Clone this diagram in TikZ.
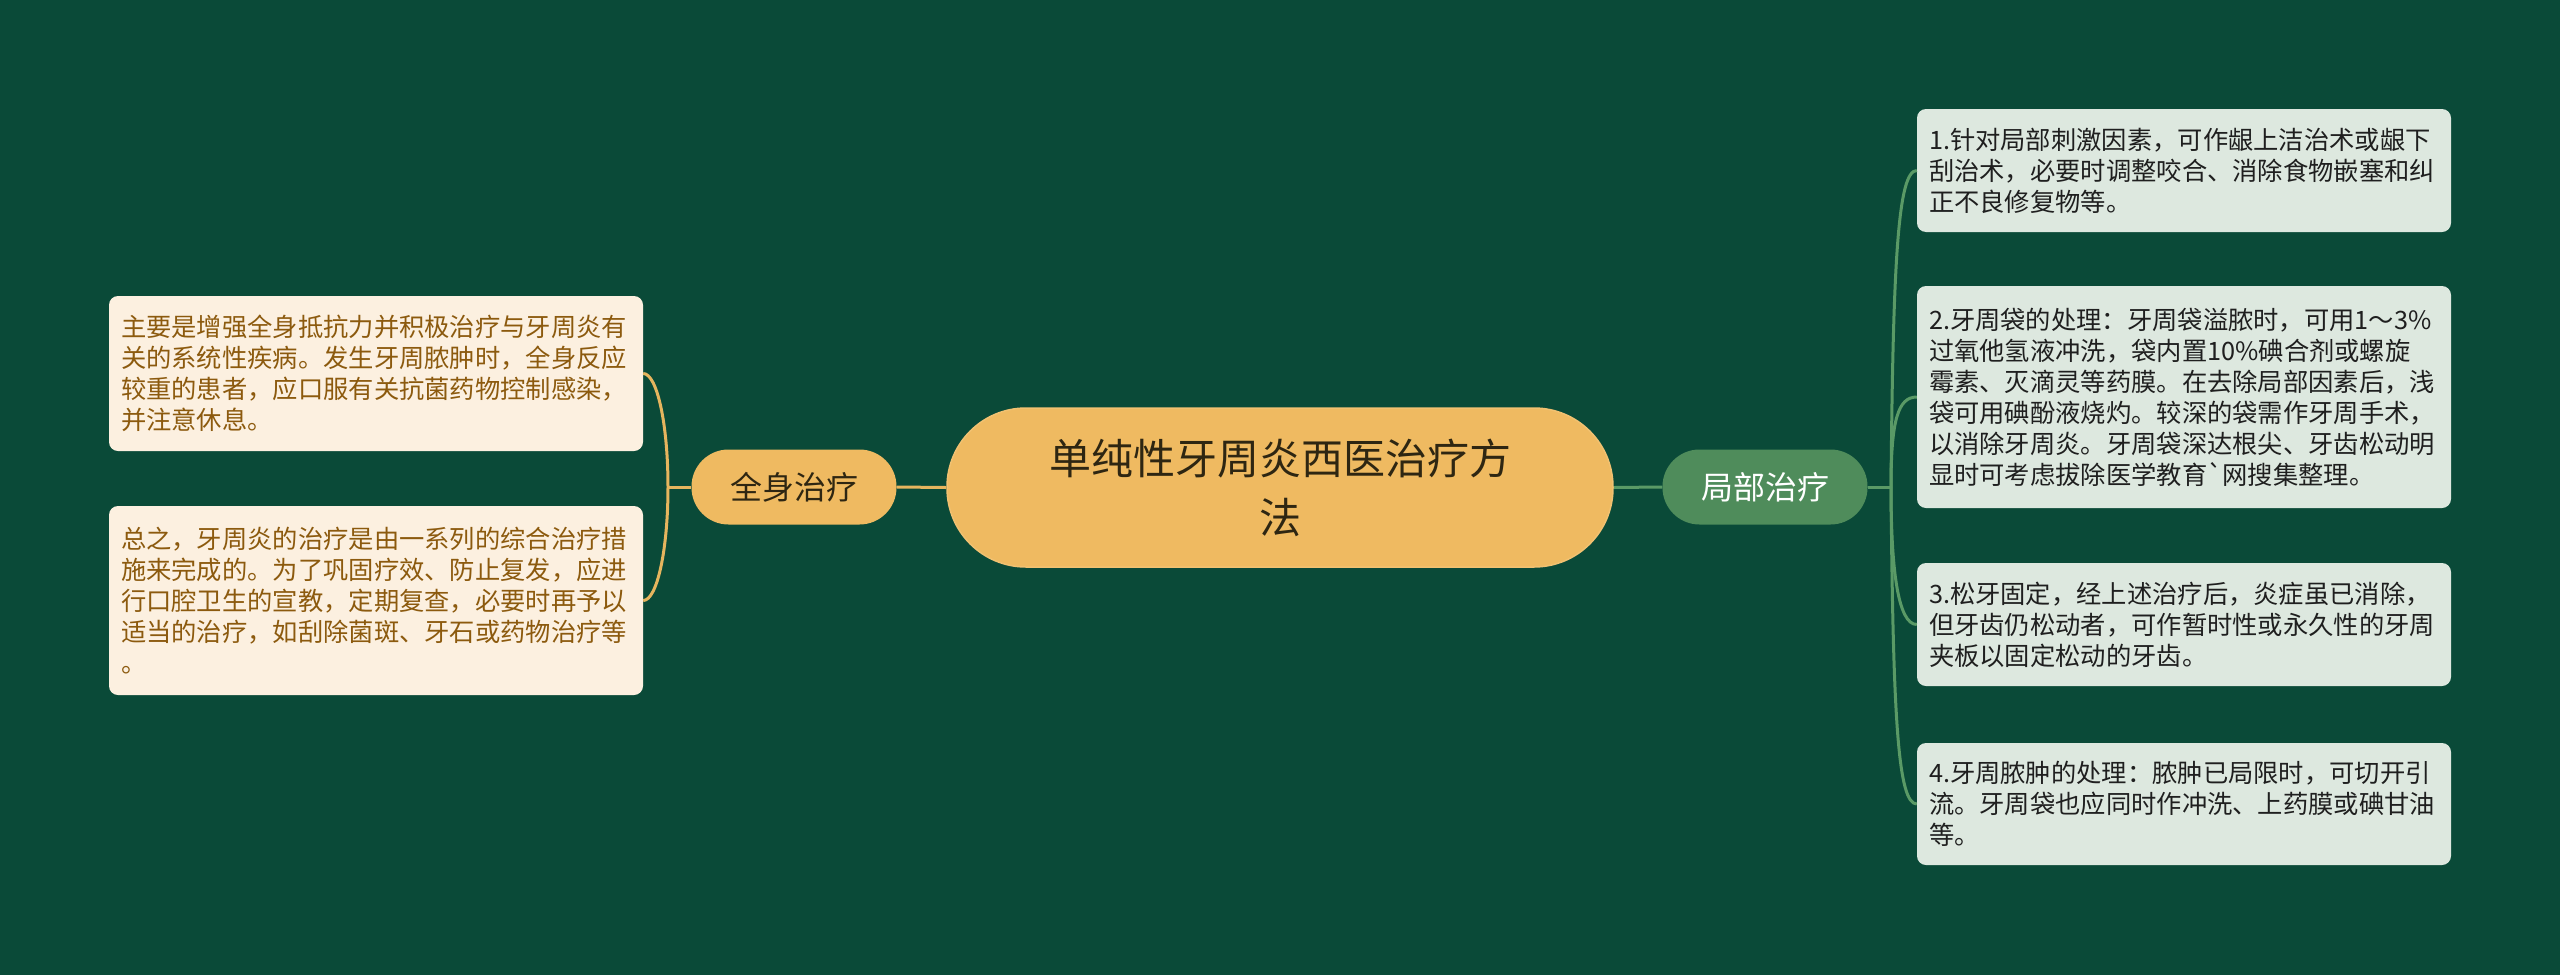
\documentclass[tikz,border=0pt]{standalone}
\usepackage{fontspec}
\setmainfont{Noto Sans CJK SC}[Ligatures=TeXOff]
\definecolor{bgc}{HTML}{0A4A38}
\definecolor{gold}{HTML}{EFBA61}
\definecolor{goldline}{HTML}{E6B55E}
\definecolor{cream}{HTML}{FCF0E0}
\definecolor{browntxt}{HTML}{8C5A0E}
\definecolor{mint}{HTML}{DDE8DF}
\definecolor{greennode}{HTML}{4F8C5B}
\definecolor{greenline}{HTML}{5A9A66}
\definecolor{darktxt}{HTML}{2E2612}
\begin{document}
\begin{tikzpicture}[x=1pt,y=-1pt,
  lbox/.style={rectangle, rounded corners=9pt, fill=cream, text=browntxt,
    minimum width=534pt, text width=510pt, inner xsep=12pt, inner ysep=0pt, align=left,
    font=\fontsize{25.3}{31}\selectfont},
  rbox/.style={rectangle, rounded corners=9pt, fill=mint, text=black!88,
    minimum width=534pt, text width=510pt, inner xsep=12pt, inner ysep=0pt, align=left,
    font=\fontsize{25.3}{31}\selectfont},
  mainnode/.style={rectangle, rounded corners=79pt, fill=gold, draw=gold!90!white, line width=1.5pt,
    minimum width=666pt, minimum height=159pt, text=darktxt, align=center,
    font=\fontsize{42}{59}\selectfont},
  subnode/.style={rectangle, rounded corners=37pt, minimum width=205pt, minimum height=75pt,
    align=center, font=\fontsize{32}{38}\selectfont},
  lline/.style={draw=goldline, line width=3pt},
  rline/.style={draw=greenline, line width=3pt}]
\fill[bgc] (0,0) rectangle (2560,975);
\useasboundingbox (0,0) rectangle (2560,975);

\node[mainnode] (main) at (1280,487.5) {单纯性牙周炎西医治疗方\\法};
\node[subnode, fill=gold, text=darktxt] (qs) at (794,487) {全身治疗};
\node[subnode, fill=greennode, text=white] (jb) at (1765,487) {局部治疗};

\node[lbox, minimum height=155pt] (l1) at (376,373.5) {主要是增强全身抵抗力并积极治疗与牙周炎有\\关的系统性疾病。发生牙周脓肿时，全身反应\\较重的患者，应口服有关抗菌药物控制感染，\\并注意休息。};
\node[lbox, minimum height=189pt] (l2) at (376,600.5) {总之，牙周炎的治疗是由一系列的综合治疗措\\施来完成的。为了巩固疗效、防止复发，应进\\行口腔卫生的宣教，定期复查，必要时再予以\\适当的治疗，如刮除菌斑、牙石或药物治疗等\\。};

\node[rbox, minimum height=123pt] (r1) at (2184,170.5) {1.针对局部刺激因素，可作龈上洁治术或龈下\\刮治术，必要时调整咬合、消除食物嵌塞和纠\\正不良修复物等。};
\node[rbox, minimum height=222pt] (r2) at (2184,397) {2.牙周袋的处理：牙周袋溢脓时，可用1～3\%\\过氧他氢液冲洗，袋内置10\%碘合剂或螺旋\\霉素、灭滴灵等药膜。在去除局部因素后，浅\\袋可用碘酚液烧灼。较深的袋需作牙周手术，\\以消除牙周炎。牙周袋深达根尖、牙齿松动明\\显时可考虑拔除医学教育`网搜集整理。};
\node[rbox, minimum height=123pt] (r3) at (2184,624.5) {3.松牙固定，经上述治疗后，炎症虽已消除，\\但牙齿仍松动者，可作暂时性或永久性的牙周\\夹板以固定松动的牙齿。};
\node[rbox, minimum height=122pt] (r4) at (2184,804) {4.牙周脓肿的处理：脓肿已局限时，可切开引\\流。牙周袋也应同时作冲洗、上药膜或碘甘油\\等。};

% left connectors
\draw[lline] (main.west) -- (qs.east);
\coordinate (lj) at (668,487);
\draw[lline] (qs.west) -- (lj);
\draw[lline] (lj) .. controls (668,424) and (657,373.5) .. (l1.east);
\draw[lline] (lj) .. controls (668,550) and (657,600.5) .. (l2.east);

% right connectors
\draw[rline] (main.east) -- (jb.west);
\coordinate (rj) at (1891,487);
\draw[rline] (jb.east) -- (rj);
\draw[rline] (rj) .. controls (1893,260) and (1898,170.5) .. (r1.west);
\draw[rline] (rj) .. controls (1891,420) and (1898,397) .. (r2.west);
\draw[rline] (rj) .. controls (1891,570) and (1898,624.5) .. (r3.west);
\draw[rline] (rj) .. controls (1893,720) and (1898,804) .. (r4.west);
\end{tikzpicture}
\end{document}
